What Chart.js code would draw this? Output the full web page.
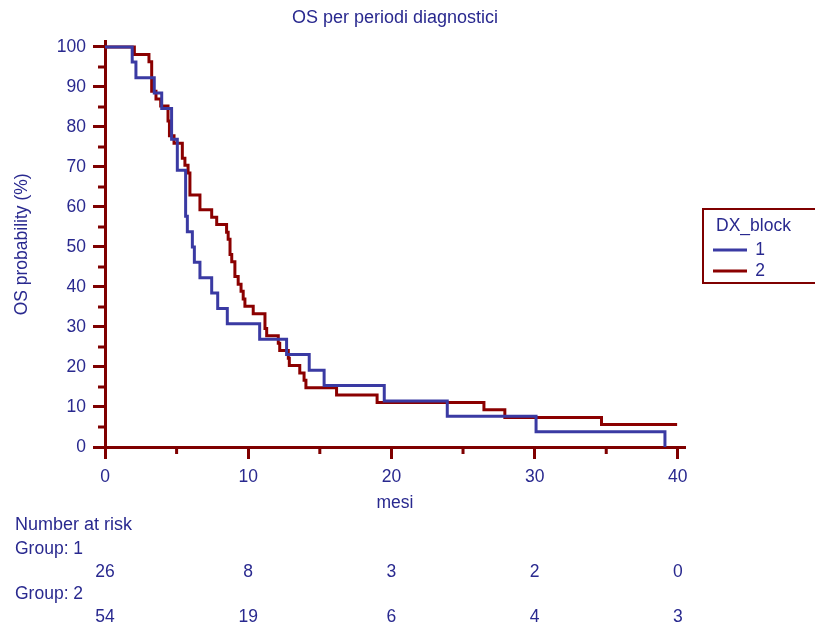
<!DOCTYPE html>
<html>
<head>
<meta charset="utf-8">
<title>OS per periodi diagnostici</title>
<script src="https://cdn.jsdelivr.net/npm/chart.js@4.4.1/dist/chart.umd.min.js"></script>
<style>
    html, body { margin: 0; padding: 0; background: #ffffff; }
    #wrap { width: 815px; height: 626px; }
</style>
</head>
<body>
<div id="wrap"><canvas id="kmChart" width="815" height="626"></canvas></div>
<script>
// Kaplan-Meier (mesi, % sopravvivenza)
const group1Times = [0, 1.9, 2.16, 3.44, 3.96, 4.65, 5.05, 5.63, 5.75, 6.1, 6.24, 6.63, 7.45, 7.87, 8.54, 10.8, 12.68, 14.26, 15.3, 19.5, 23.9, 30.1, 39.1];
const group1Surv  = [100, 96.2, 92.3, 88.5, 84.6, 76.9, 69.2, 57.7, 53.8, 50.0, 46.2, 42.3, 38.5, 34.6, 30.8, 26.9, 23.1, 19.2, 15.4, 11.5, 7.7, 3.8, 0];

const group2Times = [0, 2.05, 3.07, 3.26, 3.56, 3.89, 4.4, 4.5, 4.82, 5.4, 5.58, 5.8, 5.93, 6.63, 7.45, 7.8, 8.49, 8.6, 8.73, 8.85, 9.07, 9.3, 9.5, 9.65, 9.77, 10.35, 11.17, 11.29, 12.1, 12.2, 12.8, 12.87, 13.6, 13.9, 14.03, 16.17, 19.0, 26.46, 27.92, 34.67, 39.95];
const group2Surv  = [100, 98.1, 96.3, 88.9, 87.0, 85.2, 81.5, 77.8, 75.9, 72.2, 70.4, 68.5, 63.0, 59.3, 57.4, 55.6, 53.7, 51.9, 48.1, 46.3, 42.6, 40.7, 38.9, 37.0, 35.2, 33.3, 29.6, 27.8, 25.9, 24.1, 22.2, 20.4, 18.5, 16.7, 14.8, 13.0, 11.1, 9.3, 7.4, 5.6, 5.6];

const groupLabels = ['1', '2'];
const riskTimes = [0, 10, 20, 30, 40];
const riskGroup1 = [26, 8, 3, 2, 0];
const riskGroup2 = [54, 19, 6, 4, 3];

const textColor = '#29298f';
const axisColor = '#7f0000';
const lineColors = ['#3a3aa3', '#8b0000'];
const fontFamily = "'Liberation Sans', Arial, sans-serif";
const textSize = 17.5;

function toPoints(times, surv) {
    return times.map(function (t, i) { return { x: t, y: surv[i] }; });
}

// tacche minori, legenda e tabella "Number at risk"
const extrasPlugin = {
    id: 'kmExtras',
    afterDraw: function (chart) {
        const ctx = chart.ctx;
        const xs = chart.scales.x;
        const ys = chart.scales.y;
        const area = chart.chartArea;

        ctx.save();
        ctx.strokeStyle = axisColor;
        ctx.lineWidth = 3;
        ctx.beginPath();
        for (let v = 5; v < 40; v += 10) {
            const px = xs.getPixelForValue(v);
            ctx.moveTo(px, area.bottom);
            ctx.lineTo(px, area.bottom + 7);
        }
        for (let v = 5; v < 100; v += 10) {
            const py = ys.getPixelForValue(v);
            ctx.moveTo(area.left, py);
            ctx.lineTo(area.left - 7, py);
        }
        ctx.stroke();

        // legenda
        ctx.lineWidth = 2;
        ctx.strokeRect(703, 209, 120, 74);
        ctx.fillStyle = textColor;
        ctx.font = textSize + 'px ' + fontFamily;
        ctx.textBaseline = 'middle';
        ctx.textAlign = 'left';
        ctx.fillText('DX_block', 716, 226);
        chart.data.datasets.forEach(function (ds, i) {
            const ly = 250 + i * 21;
            ctx.strokeStyle = ds.borderColor;
            ctx.lineWidth = 3;
            ctx.beginPath();
            ctx.moveTo(713, ly);
            ctx.lineTo(747, ly);
            ctx.stroke();
            ctx.textAlign = 'center';
            ctx.fillText(ds.label, 760, ly);
        });

        // numero a rischio
        ctx.font = '18px ' + fontFamily;
        ctx.textAlign = 'left';
        ctx.fillText('Number at risk', 15, 525);
        ctx.font = textSize + 'px ' + fontFamily;
        ctx.fillText('Group: 1', 15, 549);
        ctx.fillText('Group: 2', 15, 594);
        ctx.textAlign = 'center';
        riskTimes.forEach(function (t, i) {
            const px = xs.getPixelForValue(t);
            ctx.fillText(String(riskGroup1[i]), px, 572);
            ctx.fillText(String(riskGroup2[i]), px, 617);
        });
        ctx.restore();
    }
};

document.addEventListener('DOMContentLoaded', function () {
    try {
        const ctx = document.getElementById('kmChart').getContext('2d');
        new Chart(ctx, {
            type: 'line',
            data: {
                datasets: [
                    {
                        label: groupLabels[0],
                        data: toPoints(group1Times, group1Surv),
                        borderColor: lineColors[0],
                        borderWidth: 3,
                        pointRadius: 0,
                        stepped: true,
                        fill: false
                    },
                    {
                        label: groupLabels[1],
                        data: toPoints(group2Times, group2Surv),
                        borderColor: lineColors[1],
                        borderWidth: 3,
                        pointRadius: 0,
                        stepped: true,
                        fill: false
                    }
                ]
            },
            options: {
                responsive: false,
                animation: false,
                layout: { padding: { left: 0, right: 130, top: 0, bottom: 112.5 } },
                plugins: {
                    legend: { display: false },
                    tooltip: { enabled: false },
                    title: {
                        display: true,
                        fullSize: false,
                        text: 'OS per periodi diagnostici',
                        color: textColor,
                        font: { family: fontFamily, size: 18, weight: 'normal' },
                        padding: { top: 7.2, bottom: 12.9 }
                    }
                },
                scales: {
                    x: {
                        type: 'linear',
                        min: 0,
                        max: 40.5,
                        afterFit: function (scale) { scale.height = 66.5; },
                        border: { color: axisColor, width: 3 },
                        grid: { drawOnChartArea: false, tickLength: 12, tickWidth: 3, tickColor: axisColor },
                        ticks: {
                            stepSize: 10,
                            includeBounds: false,
                            color: textColor,
                            padding: 7.5,
                            maxRotation: 0,
                            font: { family: fontFamily, size: textSize }
                        },
                        title: {
                            display: true,
                            text: 'mesi',
                            color: textColor,
                            padding: { top: 0, bottom: 0 },
                            font: { family: fontFamily, size: textSize }
                        }
                    },
                    y: {
                        min: 0,
                        max: 101.3,
                        afterFit: function (scale) { scale.width = 105; },
                        border: { color: axisColor, width: 3 },
                        grid: { drawOnChartArea: false, tickLength: 12, tickWidth: 3, tickColor: axisColor },
                        ticks: {
                            stepSize: 10,
                            includeBounds: false,
                            color: textColor,
                            padding: 7,
                            font: { family: fontFamily, size: textSize }
                        },
                        title: {
                            display: true,
                            text: 'OS probability (%)',
                            color: textColor,
                            padding: { top: 11.5, bottom: 0 },
                            font: { family: fontFamily, size: textSize }
                        }
                    }
                }
            },
            plugins: [extrasPlugin]
        });
    } catch (error) {
        console.error("Errore nel disegnare il grafico:", error);
    }
});
</script>
</body>
</html>
